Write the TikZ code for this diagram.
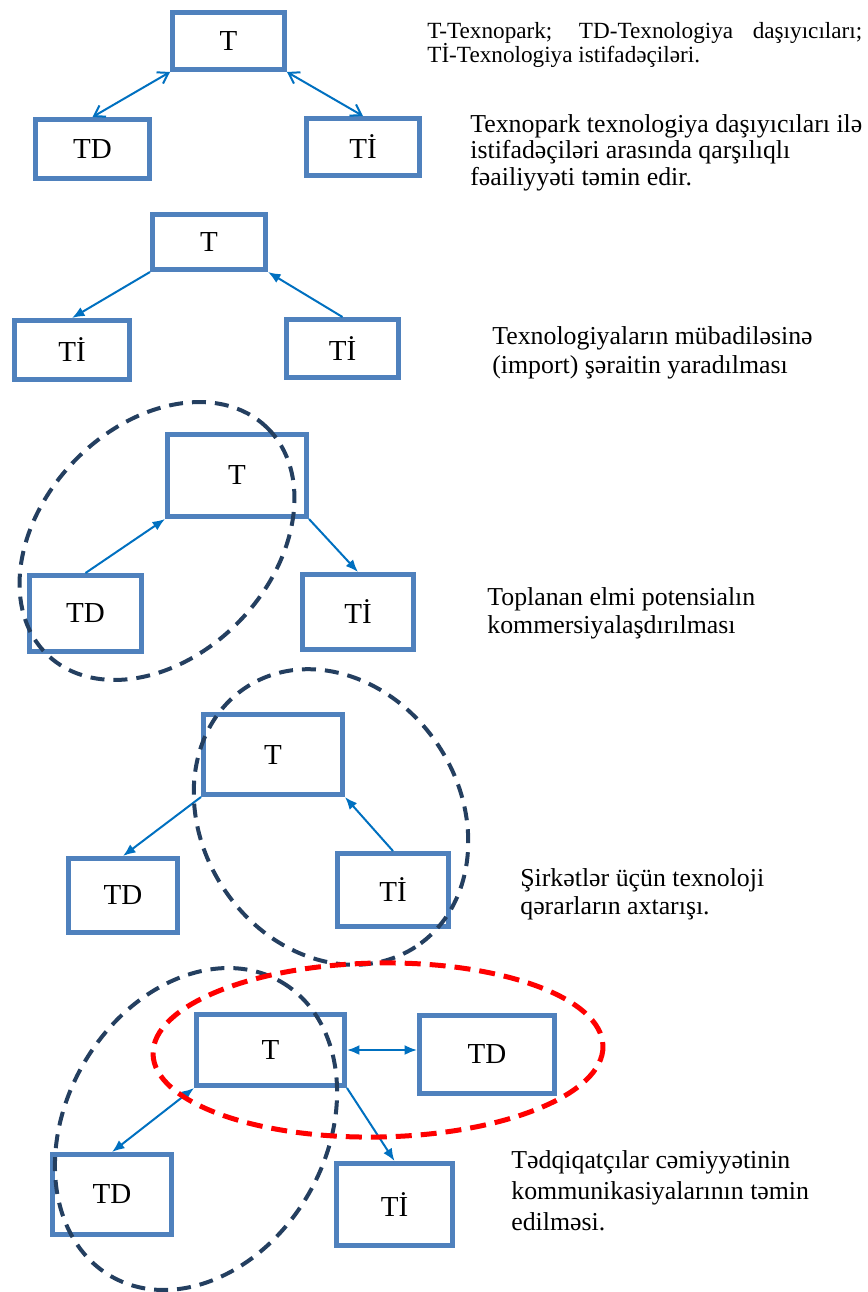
\documentclass[tikz,border=0pt]{standalone}
\usepackage{fontspec}
\setmainfont{Liberation Serif}
\usetikzlibrary{arrows.meta, positioning}

\definecolor{boxblue}{HTML}{4F81BD}
\definecolor{linkblue}{HTML}{0070C0}
\definecolor{ringnavy}{HTML}{243F60}
\definecolor{ringred}{HTML}{FF0000}

\begin{document}
\begin{tikzpicture}[
    x=0.02cm, y=-0.02cm,
    unitbox/.style={draw=boxblue, line width=0.1cm, inner sep=0pt,
        font=\fontsize{16.5}{19}\selectfont},
    link/.style={draw=linkblue, line width=0.04cm},
    opentip/.style={{Straight Barb[length=0.2cm, width=0.26cm]}-{Straight Barb[length=0.2cm, width=0.26cm]}},
    fulltip/.style={-{Latex[length=0.25cm, width=0.2cm]}},
    twotip/.style={{Latex[length=0.25cm, width=0.2cm]}-{Latex[length=0.25cm, width=0.2cm]}},
    ring/.style={draw=ringnavy, line width=0.08cm, dash pattern=on 0.28cm off 0.18cm},
    redring/.style={draw=ringred, line width=0.1cm, dash pattern=on 0.32cm off 0.18cm},
    note/.style={anchor=base west, inner sep=0pt, align=left,
        font=\fontsize{14.7}{#1}\selectfont},
    ]

    \useasboundingbox (0,0) rectangle (867,1292);

    % ==========================================
    % 1. T <-> TD, T <-> Ti
    % ==========================================
    \node[unitbox, minimum width=2.24cm, minimum height=1.14cm] (t1) at (228.5,41) {T};
    \node[unitbox, minimum width=2.28cm, minimum height=1.18cm] (td1) at (92.5,149) {TD};
    \node[unitbox, minimum width=2.26cm, minimum height=1.14cm] (ti1) at (363,147) {Tİ};

    \draw[link, opentip] (t1.south west) -- (td1.north);
    \draw[link, opentip] (t1.south east) -- (ti1.north);

    % key node has a text width, so its base is the first line
    \node[anchor=base west, inner sep=0pt, text width=8.7cm, align=justify,
        font=\fontsize{13.2}{14.2}\selectfont] (key) at (427,38)
        {T-Texnopark; TD-Texnologiya daşıyıcıları;\linebreak Tİ-Texnologiya istifadəçiləri.};
    % the other notes sit on their last line
    \node[note=15pt] (txt1) at (470,185)
        {Texnopark texnologiya daşıyıcıları ilə\\istifadəçiləri arasında qarşılıqlı\\fəailiyyəti təmin edir.};

    % ==========================================
    % 2. Ti -> T -> Ti (import)
    % ==========================================
    \node[unitbox, minimum width=2.26cm, minimum height=1.10cm] (t2) at (209,242) {T};
    \node[unitbox, minimum width=2.30cm, minimum height=1.18cm] (ti2a) at (72,350) {Tİ};
    \node[unitbox, minimum width=2.24cm, minimum height=1.16cm] (ti2b) at (342.5,348.5) {Tİ};

    \draw[link, fulltip] (t2.south west) -- (ti2a.north);
    \draw[link, fulltip] (ti2b.north) -- (t2.south east);

    \node[note=16.4pt] (txt2) at (492,373)
        {Texnologiyaların mübadiləsinə\\(import) şəraitin yaradılması};

    % ==========================================
    % 3. TD -> T -> Ti
    % ==========================================
    \node[unitbox, minimum width=2.78cm, minimum height=1.64cm] (t3) at (237,475.5) {T};
    \node[unitbox, minimum width=2.24cm, minimum height=1.52cm] (td3) at (85.5,613.5) {TD};
    \node[unitbox, minimum width=2.22cm, minimum height=1.50cm] (ti3) at (358,612) {Tİ};

    \draw[link, fulltip] (td3.north) -- (t3.south west);
    \draw[link, fulltip] (t3.south east) -- (ti3.north);

    \draw[ring, rotate around={46:(157,541)}] (157,541) ellipse [x radius=158, y radius=115];

    \node[note=15.9pt] (txt3) at (487,633)
        {Toplanan elmi potensialın\\kommersiyalaşdırılması};

    % ==========================================
    % 4. Ti -> T -> TD
    % ==========================================
    \node[unitbox, minimum width=2.78cm, minimum height=1.60cm] (t4) at (273,754.5) {T};
    \node[unitbox, minimum width=2.18cm, minimum height=1.48cm] (td4) at (123,895.5) {TD};
    \node[unitbox, minimum width=2.22cm, minimum height=1.46cm] (ti4) at (393,890) {Tİ};

    \draw[link, fulltip] (t4.south west) -- (td4.north);
    \draw[link, fulltip] (ti4.north) -- (t4.south east);

    \draw[ring, rotate around={-57:(331,817)}] (331,817) ellipse [x radius=155, y radius=129];

    \node[note=15.9pt] (txt4) at (520,914)
        {Şirkətlər üçün texnoloji\\qərarların axtarışı.};

    % ==========================================
    % 5. TD <-> T <-> TD, T -> Ti
    % ==========================================
    \node[unitbox, minimum width=2.96cm, minimum height=1.42cm] (t5) at (270.5,1050) {T};
    \node[unitbox, minimum width=2.70cm, minimum height=1.56cm] (td5b) at (487,1054.5) {TD};
    \node[unitbox, minimum width=2.38cm, minimum height=1.60cm] (td5a) at (112,1194.5) {TD};
    \node[unitbox, minimum width=2.32cm, minimum height=1.64cm] (ti5) at (394.5,1204.5) {Tİ};

    \draw[link, twotip] (t5.east) -- (td5b.west |- t5.east);
    \draw[link, twotip] (t5.south west) -- (td5a.north);
    \draw[link, fulltip] (t5.south east) -- (ti5.north);

    \draw[ring, rotate around={60:(196,1129)}] (196,1129) ellipse [x radius=170, y radius=130];
    \draw[redring, rotate around={1:(378,1050)}] (378,1050) ellipse [x radius=225, y radius=87];

    \node[note=17.6pt] (txt5) at (511,1230)
        {Tədqiqatçılar cəmiyyətinin\\kommunikasiyalarının təmin\\edilməsi.};

\end{tikzpicture}
\end{document}
